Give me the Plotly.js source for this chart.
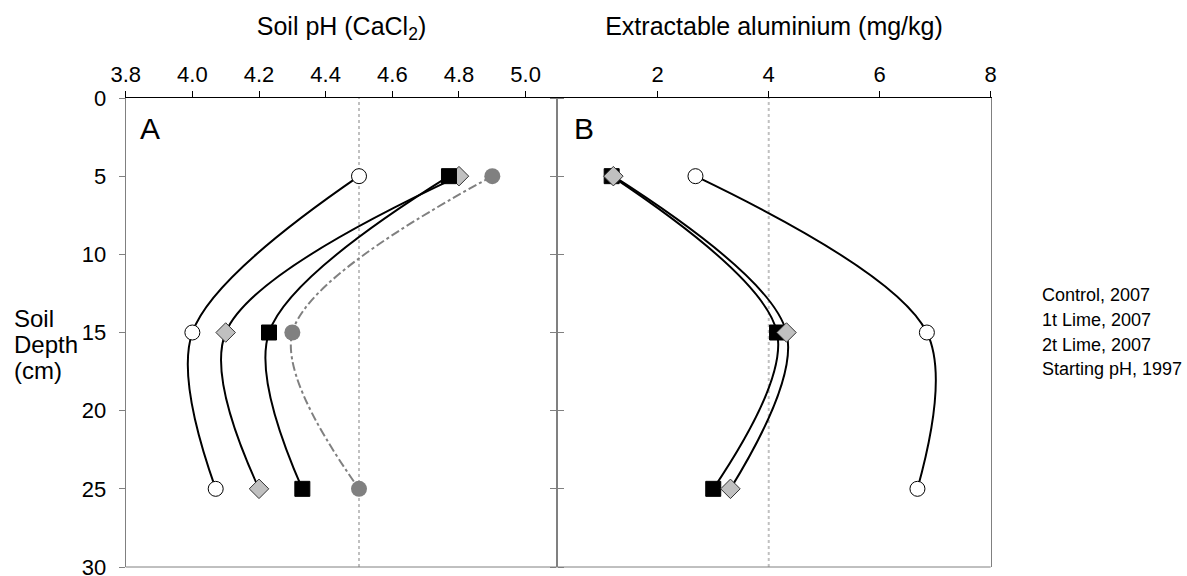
<!DOCTYPE html>
<html>
<head>
<meta charset="utf-8">
<script src="https://cdn.plot.ly/plotly-3.0.1.min.js"></script>
<style>html,body{margin:0;padding:0;background:#fff;}#chart{width:1187px;height:576px;}</style>
</head>
<body>
<div id="chart"></div>
<script>
// ---- data ----
var depth = [5, 15, 25];
var seriesNames = ["Control, 2007", "1t Lime, 2007", "2t Lime, 2007", "Starting pH, 1997"];
var phControl = [4.50, 4.00, 4.07];
var ph1tLime  = [4.80, 4.10, 4.20];
var ph2tLime  = [4.77, 4.23, 4.33];
var phStart   = [4.90, 4.30, 4.50];
var alControl = [2.68, 6.85, 6.68];
var al1tLime  = [1.20, 4.32, 3.31];
var al2tLime  = [1.17, 4.15, 3.00];
var phRefLine = 4.5;
var alRefLine = 4;
var phTicks = [3.8, 4.0, 4.2, 4.4, 4.6, 4.8, 5.0];
var alTicks = [2, 4, 6, 8];
var depthTicks = [0, 5, 10, 15, 20, 25, 30];

// ---- styles ----
var FONT = "Liberation Sans, Arial, Helvetica, sans-serif";
var W = 1187, H = 576;
function px(x){ return x / W; }
function py(y){ return 1 - y / H; }
var SMOOTH = 0.95;

var styles = {
  control: {line:{color:'#000', width:2, shape:'spline', smoothing:SMOOTH},
            marker:{symbol:'circle', size:15, color:'#fff', line:{color:'#000', width:1}}},
  t1: {line:{color:'#000', width:2, shape:'spline', smoothing:SMOOTH},
       marker:{symbol:'diamond', size:15, color:'#c0c0c0', line:{color:'#333', width:1}}},
  t2: {line:{color:'#000', width:2, shape:'spline', smoothing:SMOOTH},
       marker:{symbol:'square', size:15, color:'#000', line:{color:'#000', width:1}}},
  start: {line:{color:'#808080', width:2, shape:'spline', smoothing:SMOOTH, dash:'dashdot'},
          marker:{symbol:'circle', size:16, color:'#808080', line:{color:'#808080', width:0}}}
};

function tr(xs, name, st, xa, ya){
  return {x: xs, y: depth, name: name, type:'scatter', mode:'lines+markers',
          xaxis: xa, yaxis: ya, line: st.line, marker: st.marker,
          showlegend:false, cliponaxis:false};
}

var data = [
  tr(phControl, seriesNames[0], styles.control, 'x', 'y'),
  tr(ph1tLime,  seriesNames[1], styles.t1, 'x', 'y'),
  tr(ph2tLime,  seriesNames[2], styles.t2, 'x', 'y'),
  tr(phStart,   seriesNames[3], styles.start, 'x', 'y'),
  tr(alControl, seriesNames[0], styles.control, 'x2', 'y2'),
  tr(al2tLime,  seriesNames[2], styles.t2, 'x2', 'y2'),
  tr(al1tLime,  seriesNames[1], styles.t1, 'x2', 'y2')
];

var yDom = [1 - 567/H, 1 - 98/H];
var xDom1 = [px(125.7), px(557.3)];
var xDom2 = [px(557.3), px(990.7)];

var axisFont = {family: FONT, size: 22, color:'#000'};
var titleFont = {family: FONT, size: 25, color:'#000'};

var legendAnn = seriesNames.map(function(n, i){
  var ys = [295, 320, 345, 369];
  return {text: n, xref:'paper', yref:'paper', x: px(1040), y: py(ys[i]),
          xanchor:'left', yanchor:'middle', showarrow:false,
          font:{family: FONT, size: 18, color:'#000'}};
});

var layout = {
  width: W, height: H,
  margin: {l:0, r:0, t:0, b:0, pad:0},
  paper_bgcolor:'#fff', plot_bgcolor:'#fff',
  showlegend:false,
  font:{family: FONT, color:'#000'},
  xaxis: {domain: xDom1, range:[3.8, 5.095], side:'top', anchor:'y',
          tickvals: phTicks, tickformat:'.1f', ticks:'outside', ticklen:6, tickcolor:'#000',
          showline:true, linecolor:'#000', linewidth:1, showgrid:false, zeroline:false,
          tickfont: axisFont, automargin:false, ticklabeloverflow:'allow',
          title:{text:'Soil pH (CaCl<sub>2</sub>)', font: titleFont, standoff: 19}},
  yaxis: {domain: yDom, range:[30, 0], anchor:'x', tickvals: depthTicks,
          ticks:'outside', ticklen:6, tickcolor:'#808080', showline:true, linecolor:'#808080',
          mirror:'ticks', showgrid:false, zeroline:false, tickfont: axisFont, automargin:false,
          ticklabelstandoff: 8, ticklabeloverflow:'allow'},
  xaxis2: {domain: xDom2, range:[0.19, 8.0], side:'top', anchor:'y2',
          tickvals: alTicks, ticks:'outside', ticklen:6, tickcolor:'#000',
          showline:true, linecolor:'#000', linewidth:1, showgrid:false, zeroline:false,
          tickfont: axisFont, automargin:false, ticklabeloverflow:'allow',
          title:{text:'Extractable aluminium (mg/kg)', font: titleFont, standoff: 19}},
  yaxis2: {domain: yDom, range:[30, 0], anchor:'x2', tickvals: depthTicks,
          ticks:'outside', ticklen:6, tickcolor:'#808080', showline:true, linecolor:'#808080',
          mirror:true, showticklabels:false, showgrid:false, zeroline:false, automargin:false},
  shapes: [
    {type:'line', xref:'x', yref:'y domain', x0: phRefLine, x1: phRefLine, y0:0, y1:1,
     line:{color:'#c0c0c0', width:2, dash:'dot'}, layer:'below'},
    {type:'line', xref:'x2', yref:'y2 domain', x0: alRefLine, x1: alRefLine, y0:0, y1:1,
     line:{color:'#c0c0c0', width:2, dash:'dot'}, layer:'below'},
    {type:'line', xref:'paper', yref:'paper', x0: xDom1[0], x1: xDom2[1], y0: yDom[0], y1: yDom[0],
     line:{color:'#808080', width:1}, layer:'above'}
  ],
  annotations: [
    {text:'A', xref:'paper', yref:'paper', x: px(150), y: py(128), xanchor:'center', yanchor:'middle',
     showarrow:false, font:{family: FONT, size: 30, color:'#000'}},
    {text:'B', xref:'paper', yref:'paper', x: px(584), y: py(128), xanchor:'center', yanchor:'middle',
     showarrow:false, font:{family: FONT, size: 30, color:'#000'}},
    {text:'Soil', xref:'paper', yref:'paper', x: px(12), y: py(318), xanchor:'left', yanchor:'middle',
     showarrow:false, font:{family: FONT, size: 24, color:'#000'}},
    {text:'Depth', xref:'paper', yref:'paper', x: px(12), y: py(344), xanchor:'left', yanchor:'middle',
     showarrow:false, font:{family: FONT, size: 24, color:'#000'}},
    {text:'(cm)', xref:'paper', yref:'paper', x: px(12), y: py(370), xanchor:'left', yanchor:'middle',
     showarrow:false, font:{family: FONT, size: 24, color:'#000'}}
  ].concat(legendAnn)
};

Plotly.newPlot('chart', data, layout, {displayModeBar:false, staticPlot:true});
</script>
</body>
</html>
